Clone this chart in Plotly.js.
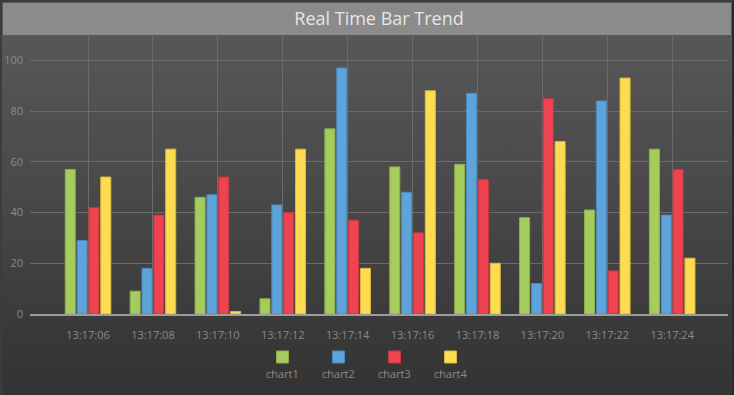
<!DOCTYPE html>
<html>
<head>
<meta charset="utf-8">
<script src="https://cdn.plot.ly/plotly-3.0.1.min.js"></script>
<style>
  html, body { margin: 0; padding: 0; width: 734px; height: 395px; overflow: hidden; }
  body { background: #2e2e2e; }
  #frame {
    position: absolute; left: 0; top: 0; width: 730px; height: 393px;
    border-left: 2px solid #3c3c3c; border-top: 2px solid #3c3c3c;
    border-right: 2px solid #2a2a2a; border-bottom: 0;
    background: linear-gradient(to bottom, #5a5a5a 0px, #4a4a4a 180px, #3a3a3a 320px, #333333 395px);
  }
  #titlebar {
    position: absolute; left: 3px; top: 3px; width: 728px; height: 32px;
    background: #8b8b8b;
  }
  #chart { position: absolute; left: 0; top: 0; width: 734px; height: 395px; }
</style>
</head>
<body>
<div id="frame"></div>
<div id="titlebar"></div>
<div id="chart"></div>
<script>
const categories = ["13:17:06","13:17:08","13:17:10","13:17:12","13:17:14","13:17:16","13:17:18","13:17:20","13:17:22","13:17:24"];
const seriesNames = ["chart1","chart2","chart3","chart4"];
const chart1 = [57, 9, 46, 6, 73, 58, 59, 38, 41, 65];
const chart2 = [29, 18, 47, 43, 97, 48, 87, 12, 84, 39];
const chart3 = [42, 39, 54, 40, 37, 32, 53, 85, 17, 57];
const chart4 = [54, 65, 1, 65, 18, 88, 20, 68, 93, 22];
const colors = ["#a6cc5e", "#5ea3da", "#ee4451", "#fddc52"];
const lineColors = ["#8aae48", "#4a88bd", "#c93440", "#d8b93c"];

const seriesValues = [chart1, chart2, chart3, chart4];
const idx = categories.map((c, i) => i);

const traces = seriesValues.map((vals, s) => ({
  type: "bar",
  name: seriesNames[s],
  x: idx,
  y: vals,
  marker: { color: colors[s], line: { color: lineColors[s], width: 1 } },
  hoverinfo: "skip"
}));

// pixel geometry of plot area
const W = 734, H = 395;
const L = 30, R = 728, T = 35, B = 314;
const pw = R - L, ph = B - T;
const px = x => (x - L) / pw;
const py = y => (B - y) / ph;

const shapes = [];
const annotations = [];
const legendCenters = [282.5, 338.5, 394.5, 450.5];
seriesNames.forEach((n, s) => {
  const cx = legendCenters[s];
  shapes.push({
    type: "rect", xref: "paper", yref: "paper",
    x0: px(cx - 6), x1: px(cx + 6), y0: py(363), y1: py(351),
    fillcolor: colors[s], line: { color: lineColors[s], width: 1 }
  });
  annotations.push({
    xref: "paper", yref: "paper", x: px(cx), y: py(373),
    xanchor: "center", yanchor: "middle", showarrow: false,
    text: n, font: { family: "Open Sans, sans-serif", size: 11, color: "#8a8a8a" }
  });
});

const layout = {
  width: W, height: H,
  margin: { l: L, r: W - R, t: T, b: H - B, pad: 0 },
  paper_bgcolor: "rgba(0,0,0,0)",
  plot_bgcolor: "rgba(0,0,0,0)",
  showlegend: false,
  barmode: "group",
  bargap: 0.27,
  bargroupgap: 0.15,
  title: {
    text: "Real Time Bar Trend",
    x: 0.5, xref: "paper", xanchor: "center",
    y: 1 - 19 / H, yref: "container", yanchor: "middle",
    font: { family: "Open Sans, sans-serif", size: 18, color: "#e6e6e6" }
  },
  xaxis: {
    tickmode: "array",
    tickvals: idx,
    ticktext: categories,
    range: [-0.894, 9.86],
    showgrid: true, gridcolor: "#6b6b6b", gridwidth: 1,
    zeroline: false,
    showline: true, linecolor: "#9c9c9c", linewidth: 2,
    ticks: "", ticklabelstandoff: 10,
    tickfont: { family: "Open Sans, sans-serif", size: 11, color: "#8a8a8a" },
    fixedrange: true
  },
  yaxis: {
    range: [0, 110],
    tickvals: [0, 20, 40, 60, 80, 100],
    showgrid: true, gridcolor: "#6b6b6b", gridwidth: 1,
    zeroline: false, showline: false,
    ticks: "", ticklabelstandoff: 6,
    tickfont: { family: "Open Sans, sans-serif", size: 11, color: "#8a8a8a" },
    fixedrange: true
  },
  shapes: shapes,
  annotations: annotations
};

Plotly.newPlot("chart", traces, layout, { displayModeBar: false, staticPlot: true });
</script>
</body>
</html>
